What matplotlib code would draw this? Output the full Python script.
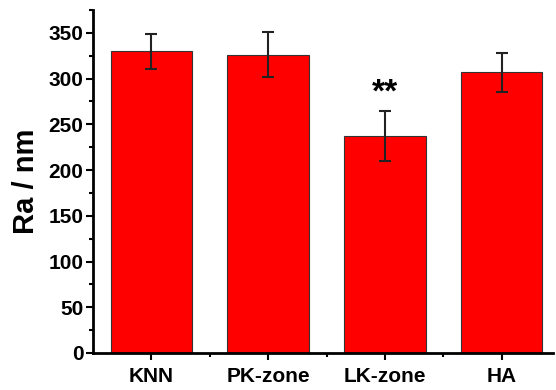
import matplotlib
matplotlib.use("Agg")
import matplotlib.pyplot as plt
from matplotlib.ticker import MultipleLocator, FixedLocator

categories = ["KNN", "PK-zone", "LK-zone", "HA"]
values = [330, 326, 237, 307]
errors = [19, 24.5, 27.5, 21.5]
sig_labels = ["", "", "**", ""]
sig_y = [None, None, 284, None]

plt.rcParams['font.family'] = ['Liberation Sans', 'DejaVu Sans']
plt.rcParams['font.weight'] = 'bold'

fig = plt.figure(figsize=(5.56, 3.90), dpi=100)
ax = fig.add_axes([93/556, 37/390, 460/556, 343/390])

x = [1, 2, 3, 4]
ax.bar(x, values, width=0.7, color='#ff0000', edgecolor='#333333', linewidth=0.8,
       yerr=errors, error_kw=dict(ecolor='#222222', elinewidth=1.5, capsize=4, capthick=1.5))

for xi, lab, yy in zip(x, sig_labels, sig_y):
    if lab:
        ax.text(xi, yy, lab, ha='center', va='center', fontsize=24, fontweight='bold')

ax.set_xlim(0.5, 4.44)
ax.set_ylim(0, 375)
ax.set_xticks(x)
ax.set_xticklabels(categories, fontsize=15, fontweight='bold')
ax.xaxis.set_minor_locator(FixedLocator([1.5, 2.5, 3.5]))
ax.yaxis.set_major_locator(MultipleLocator(50))
ax.yaxis.set_minor_locator(MultipleLocator(25))
for lab in ax.get_yticklabels():
    lab.set_fontweight('bold')
ax.tick_params(axis='y', labelsize=15, pad=2)
ax.tick_params(which='major', direction='out', length=5, width=1.5)
ax.tick_params(which='minor', direction='out', length=3, width=1.5)
ax.tick_params(axis='x', which='major', pad=5)

for s in ['top', 'right']:
    ax.spines[s].set_visible(False)
for s in ['left', 'bottom']:
    ax.spines[s].set_linewidth(2)

ax.set_ylabel('Ra / nm', fontsize=21, fontweight='bold', labelpad=6)

fig.savefig('out.png', dpi=100)
